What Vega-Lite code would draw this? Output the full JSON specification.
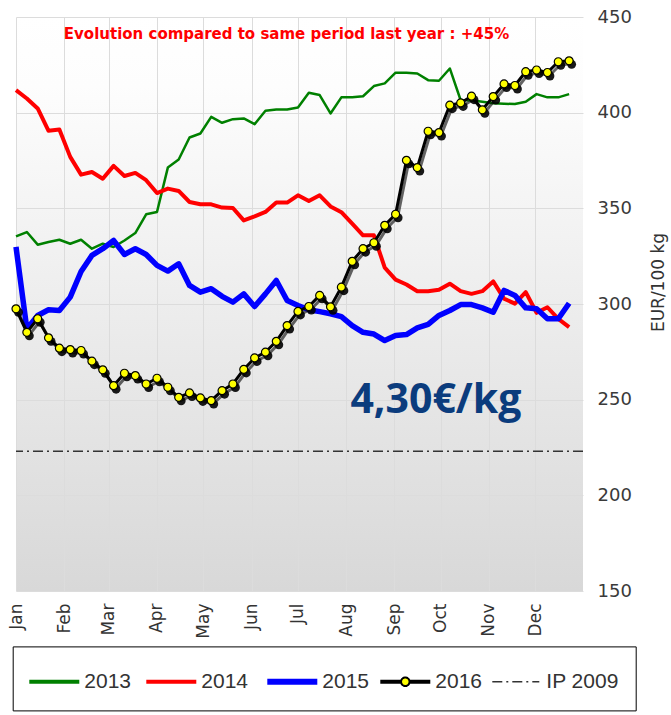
{
  "$schema": "https://vega.github.io/schema/vega-lite/v6.json",
  "width": 567,
  "height": 574,
  "autosize": {"type": "none"},
  "padding": {"left": 16, "top": 17, "right": 88, "bottom": 124},
  "background": "#ffffff",
  "view": {"stroke": null, "fill": {"gradient": "linear", "x1": 0, "y1": 0, "x2": 0, "y2": 1, "stops": [{"offset": 0, "color": "#ffffff"}, {"offset": 0.12, "color": "#fdfdfd"}, {"offset": 1, "color": "#d8d8d8"}]}},
  "config": {"font": "DejaVu Sans"},
  "datasets": {
    "prices": [
      {"s":"2013","d":"2016-01-01","v":335.3},{"s":"2013","d":"2016-01-08","v":337.6},{"s":"2013","d":"2016-01-15","v":331.0},{"s":"2013","d":"2016-01-22","v":332.4},{"s":"2013","d":"2016-01-29","v":333.6},{"s":"2013","d":"2016-02-05","v":331.5},{"s":"2013","d":"2016-02-12","v":333.6},{"s":"2013","d":"2016-02-19","v":328.9},{"s":"2013","d":"2016-02-26","v":331.5},{"s":"2013","d":"2016-03-04","v":329.8},
      {"s":"2013","d":"2016-03-11","v":333.2},{"s":"2013","d":"2016-03-18","v":337.1},{"s":"2013","d":"2016-03-25","v":346.9},{"s":"2013","d":"2016-04-01","v":348.1},{"s":"2013","d":"2016-04-08","v":371.3},{"s":"2013","d":"2016-04-15","v":375.5},{"s":"2013","d":"2016-04-22","v":387.0},{"s":"2013","d":"2016-04-29","v":389.1},{"s":"2013","d":"2016-05-06","v":397.8},{"s":"2013","d":"2016-05-13","v":394.7},
      {"s":"2013","d":"2016-05-20","v":396.6},{"s":"2013","d":"2016-05-27","v":397.0},{"s":"2013","d":"2016-06-03","v":394.0},{"s":"2013","d":"2016-06-10","v":401.0},{"s":"2013","d":"2016-06-17","v":401.7},{"s":"2013","d":"2016-06-24","v":401.7},{"s":"2013","d":"2016-07-01","v":402.7},{"s":"2013","d":"2016-07-08","v":410.4},{"s":"2013","d":"2016-07-15","v":409.2},{"s":"2013","d":"2016-07-22","v":399.6},
      {"s":"2013","d":"2016-07-29","v":408.0},{"s":"2013","d":"2016-08-05","v":408.0},{"s":"2013","d":"2016-08-12","v":408.6},{"s":"2013","d":"2016-08-19","v":413.9},{"s":"2013","d":"2016-08-26","v":415.3},{"s":"2013","d":"2016-09-02","v":420.9},{"s":"2013","d":"2016-09-09","v":420.9},{"s":"2013","d":"2016-09-16","v":420.5},{"s":"2013","d":"2016-09-23","v":417.0},{"s":"2013","d":"2016-09-30","v":416.7},
      {"s":"2013","d":"2016-10-07","v":423.1},{"s":"2013","d":"2016-10-14","v":406.5},{"s":"2013","d":"2016-10-21","v":406.5},{"s":"2013","d":"2016-10-28","v":405.7},{"s":"2013","d":"2016-11-04","v":404.9},{"s":"2013","d":"2016-11-11","v":404.7},{"s":"2013","d":"2016-11-18","v":404.5},{"s":"2013","d":"2016-11-25","v":405.7},{"s":"2013","d":"2016-12-02","v":409.7},{"s":"2013","d":"2016-12-09","v":408.0},{"s":"2013","d":"2016-12-16","v":408.0},{"s":"2013","d":"2016-12-23","v":409.7},

      {"s":"2014","d":"2016-01-01","v":411.8},{"s":"2014","d":"2016-01-08","v":407.4},{"s":"2014","d":"2016-01-15","v":402.2},{"s":"2014","d":"2016-01-22","v":390.5},{"s":"2014","d":"2016-01-29","v":391.2},{"s":"2014","d":"2016-02-05","v":376.9},{"s":"2014","d":"2016-02-12","v":367.6},{"s":"2014","d":"2016-02-19","v":369.0},{"s":"2014","d":"2016-02-26","v":365.5},{"s":"2014","d":"2016-03-04","v":372.2},
      {"s":"2014","d":"2016-03-11","v":366.9},{"s":"2014","d":"2016-03-18","v":368.5},{"s":"2014","d":"2016-03-25","v":364.7},{"s":"2014","d":"2016-04-01","v":358.0},{"s":"2014","d":"2016-04-08","v":360.3},{"s":"2014","d":"2016-04-15","v":359.1},{"s":"2014","d":"2016-04-22","v":353.3},{"s":"2014","d":"2016-04-29","v":352.1},{"s":"2014","d":"2016-05-06","v":352.1},{"s":"2014","d":"2016-05-13","v":350.4},
      {"s":"2014","d":"2016-05-20","v":350.2},{"s":"2014","d":"2016-05-27","v":343.7},{"s":"2014","d":"2016-06-03","v":345.8},{"s":"2014","d":"2016-06-10","v":348.1},{"s":"2014","d":"2016-06-17","v":353.0},{"s":"2014","d":"2016-06-24","v":353.0},{"s":"2014","d":"2016-07-01","v":356.8},{"s":"2014","d":"2016-07-08","v":353.8},{"s":"2014","d":"2016-07-15","v":356.8},{"s":"2014","d":"2016-07-22","v":351.0},
      {"s":"2014","d":"2016-07-29","v":348.0},{"s":"2014","d":"2016-08-05","v":342.0},{"s":"2014","d":"2016-08-12","v":335.9},{"s":"2014","d":"2016-08-19","v":335.9},{"s":"2014","d":"2016-08-26","v":319.0},{"s":"2014","d":"2016-09-02","v":312.7},{"s":"2014","d":"2016-09-09","v":310.2},{"s":"2014","d":"2016-09-16","v":306.7},{"s":"2014","d":"2016-09-23","v":306.7},{"s":"2014","d":"2016-09-30","v":307.4},
      {"s":"2014","d":"2016-10-07","v":310.6},{"s":"2014","d":"2016-10-14","v":306.7},{"s":"2014","d":"2016-10-21","v":305.3},{"s":"2014","d":"2016-10-28","v":306.7},{"s":"2014","d":"2016-11-04","v":311.8},{"s":"2014","d":"2016-11-11","v":302.8},{"s":"2014","d":"2016-11-18","v":300.2},{"s":"2014","d":"2016-11-25","v":306.2},{"s":"2014","d":"2016-12-02","v":295.4},{"s":"2014","d":"2016-12-09","v":298.3},{"s":"2014","d":"2016-12-16","v":292.2},{"s":"2014","d":"2016-12-23","v":287.9},

      {"s":"2015","d":"2016-01-01","v":329.8},{"s":"2015","d":"2016-01-08","v":287.0},{"s":"2015","d":"2016-01-15","v":294.0},{"s":"2015","d":"2016-01-22","v":297.0},{"s":"2015","d":"2016-01-29","v":296.6},{"s":"2015","d":"2016-02-05","v":303.6},{"s":"2015","d":"2016-02-12","v":317.0},{"s":"2015","d":"2016-02-19","v":325.4},{"s":"2015","d":"2016-02-26","v":328.9},{"s":"2015","d":"2016-03-04","v":333.2},
      {"s":"2015","d":"2016-03-11","v":325.9},{"s":"2015","d":"2016-03-18","v":328.9},{"s":"2015","d":"2016-03-25","v":325.9},{"s":"2015","d":"2016-04-01","v":320.2},{"s":"2015","d":"2016-04-08","v":317.2},{"s":"2015","d":"2016-04-15","v":321.0},{"s":"2015","d":"2016-04-22","v":309.7},{"s":"2015","d":"2016-04-29","v":306.2},{"s":"2015","d":"2016-05-06","v":308.0},{"s":"2015","d":"2016-05-13","v":304.0},
      {"s":"2015","d":"2016-05-20","v":301.0},{"s":"2015","d":"2016-05-27","v":305.3},{"s":"2015","d":"2016-06-03","v":298.7},{"s":"2015","d":"2016-06-10","v":305.3},{"s":"2015","d":"2016-06-17","v":312.3},{"s":"2015","d":"2016-06-24","v":301.8},{"s":"2015","d":"2016-07-01","v":299.2},{"s":"2015","d":"2016-07-08","v":297.0},{"s":"2015","d":"2016-07-15","v":296.0},{"s":"2015","d":"2016-07-22","v":294.9},
      {"s":"2015","d":"2016-07-29","v":293.4},{"s":"2015","d":"2016-08-05","v":288.7},{"s":"2015","d":"2016-08-12","v":285.2},{"s":"2015","d":"2016-08-19","v":284.3},{"s":"2015","d":"2016-08-26","v":280.9},{"s":"2015","d":"2016-09-02","v":283.5},{"s":"2015","d":"2016-09-09","v":284.0},{"s":"2015","d":"2016-09-16","v":287.5},{"s":"2015","d":"2016-09-23","v":289.3},{"s":"2015","d":"2016-09-30","v":294.0},
      {"s":"2015","d":"2016-10-07","v":296.6},{"s":"2015","d":"2016-10-14","v":299.7},{"s":"2015","d":"2016-10-21","v":299.7},{"s":"2015","d":"2016-10-28","v":298.0},{"s":"2015","d":"2016-11-04","v":295.7},{"s":"2015","d":"2016-11-11","v":307.1},{"s":"2015","d":"2016-11-18","v":304.5},{"s":"2015","d":"2016-11-25","v":298.0},{"s":"2015","d":"2016-12-02","v":297.5},{"s":"2015","d":"2016-12-09","v":292.3},{"s":"2015","d":"2016-12-16","v":292.3},{"s":"2015","d":"2016-12-23","v":300.4},

      {"s":"2016","d":"2016-01-01","v":297.5},{"s":"2016","d":"2016-01-08","v":285.2},{"s":"2016","d":"2016-01-15","v":292.3},{"s":"2016","d":"2016-01-22","v":282.3},{"s":"2016","d":"2016-01-29","v":276.9},{"s":"2016","d":"2016-02-05","v":276.2},{"s":"2016","d":"2016-02-12","v":275.7},{"s":"2016","d":"2016-02-19","v":270.1},{"s":"2016","d":"2016-02-26","v":265.6},{"s":"2016","d":"2016-03-04","v":257.3},
      {"s":"2016","d":"2016-03-11","v":263.8},{"s":"2016","d":"2016-03-18","v":262.6},{"s":"2016","d":"2016-03-25","v":258.2},{"s":"2016","d":"2016-04-01","v":261.2},{"s":"2016","d":"2016-04-08","v":256.5},{"s":"2016","d":"2016-04-15","v":251.2},{"s":"2016","d":"2016-04-22","v":253.5},{"s":"2016","d":"2016-04-29","v":250.9},{"s":"2016","d":"2016-05-06","v":249.5},{"s":"2016","d":"2016-05-13","v":254.7},
      {"s":"2016","d":"2016-05-20","v":258.2},{"s":"2016","d":"2016-05-27","v":265.8},{"s":"2016","d":"2016-06-03","v":271.8},{"s":"2016","d":"2016-06-10","v":274.8},{"s":"2016","d":"2016-06-17","v":280.5},{"s":"2016","d":"2016-06-24","v":288.7},{"s":"2016","d":"2016-07-01","v":296.1},{"s":"2016","d":"2016-07-08","v":298.7},{"s":"2016","d":"2016-07-15","v":304.5},{"s":"2016","d":"2016-07-22","v":298.5},
      {"s":"2016","d":"2016-07-29","v":308.8},{"s":"2016","d":"2016-08-05","v":322.3},{"s":"2016","d":"2016-08-12","v":328.9},{"s":"2016","d":"2016-08-19","v":332.0},{"s":"2016","d":"2016-08-26","v":341.1},{"s":"2016","d":"2016-09-02","v":346.9},{"s":"2016","d":"2016-09-09","v":375.1},{"s":"2016","d":"2016-09-16","v":371.3},{"s":"2016","d":"2016-09-23","v":390.3},{"s":"2016","d":"2016-09-30","v":389.6},
      {"s":"2016","d":"2016-10-07","v":403.9},{"s":"2016","d":"2016-10-14","v":405.1},{"s":"2016","d":"2016-10-21","v":408.6},{"s":"2016","d":"2016-10-28","v":401.5},{"s":"2016","d":"2016-11-04","v":408.4},{"s":"2016","d":"2016-11-11","v":415.0},{"s":"2016","d":"2016-11-18","v":414.2},{"s":"2016","d":"2016-11-25","v":421.4},{"s":"2016","d":"2016-12-02","v":422.3},{"s":"2016","d":"2016-12-09","v":421.0},{"s":"2016","d":"2016-12-16","v":426.6},{"s":"2016","d":"2016-12-23","v":427.1}
    ]
  },
  "layer": [
    {
      "data": {"name": "prices"},
      "transform": [{"filter": "datum.s === '2013'"}],
      "mark": {"type": "line", "strokeWidth": 2.5, "strokeJoin": "round"},
      "encoding": {
        "x": {
          "field": "d", "type": "temporal",
          "scale": {"domain": [{"year": 2016, "month": 1, "date": 1}, {"year": 2016, "month": 12, "date": 31, "hours": 23}]},
          "axis": {"format": "%b", "tickCount": "month", "labelAngle": 270, "labelAlign": "right", "labelBaseline": "middle", "labelPadding": 12, "ticks": false, "tickSize": 0, "domain": false, "grid": true, "gridColor": "#dcdcdc", "gridWidth": 1, "labelFont": "DejaVu Sans", "labelFontSize": 17, "labelColor": "#333333", "title": null, "labelOverlap": false, "labelFlush": false}
        },
        "y": {
          "field": "v", "type": "quantitative",
          "scale": {"domain": [150, 450], "nice": false, "zero": false},
          "axis": {"orient": "right", "values": [150, 200, 250, 300, 350, 400, 450], "ticks": false, "tickSize": 0, "domain": false, "grid": true, "gridColor": "#dcdcdc", "gridWidth": 1, "labelFont": "DejaVu Sans", "labelFontSize": 18, "labelColor": "#3a3a3a", "labelPadding": 14, "labelAlign": "left", "title": "EUR/100 kg", "titleFont": "DejaVu Sans", "titleFontSize": 17, "titleFontWeight": "normal", "titleColor": "#333333", "titleAngle": 270, "titleX": 75, "titleY": 265, "titleAlign": "center", "titleBaseline": "middle"}
        },
        "color": {
          "field": "s", "type": "nominal",
          "scale": {"domain": ["2013", "2014", "2015", "2016", "IP 2009"], "range": ["#008000", "#ff0000", "#0000ff", "#000000", "#333333"]},
          "legend": {
            "orient": "none", "legendX": -3.3, "legendY": 629.4, "direction": "horizontal", "title": null,
            "gridAlign": "none",
            "symbolType": "stroke", "symbolSize": 2500, "symbolStrokeWidth": 4,
            "labelFont": "Liberation Sans", "labelFontSize": 21, "labelColor": "#333333", "labelOffset": 34, "labelLimit": 200,
            "columnPadding": 7, "padding": 16.6, "strokeColor": "#000000", "fillColor": "#ffffff",
            "encode": {
              "symbols": {"update": {
                "strokeWidth": {"signal": "datum.value === '2015' ? 6 : datum.value === 'IP 2009' ? 1.5 : datum.value === '2016' ? 2 : 4"},
                "strokeDash": {"signal": "datum.value === 'IP 2009' ? [10,4,2,4] : [1,0]"},
                "shape": {"signal": "datum.value === '2016' ? 'M-0.42,0.29H0.41M-0.42,0.37H0.41M0.75,0.29H1.58M0.75,0.37H1.58M0.75,0.33A0.17,0.17,0,1,1,0.41,0.33A0.17,0.17,0,1,1,0.75,0.33Z' : datum.value === 'IP 2009' ? 'M-0.38,0.33H1.5' : 'M-0.42,0.33H1.58'"},
                "fill": {"signal": "datum.value === '2016' ? '#ffff00' : 'transparent'"},
                "opacity": {"value": 1}
              }},
              "labels": {"update": {"dy": {"value": 8.3}}}
            }
          }
        }
      }
    },
    {
      "data": {"name": "prices"},
      "transform": [{"filter": "datum.s === '2014'"}],
      "mark": {"type": "line", "strokeWidth": 4, "strokeJoin": "round"},
      "encoding": {
        "x": {"field": "d", "type": "temporal"},
        "y": {"field": "v", "type": "quantitative"},
        "color": {"field": "s", "type": "nominal"}
      }
    },
    {
      "data": {"name": "prices"},
      "transform": [{"filter": "datum.s === '2015'"}],
      "mark": {"type": "line", "strokeWidth": 5.5, "strokeJoin": "round"},
      "encoding": {
        "x": {"field": "d", "type": "temporal"},
        "y": {"field": "v", "type": "quantitative"},
        "color": {"field": "s", "type": "nominal"}
      }
    },
    {
      "data": {"values": [{"s": "IP 2009", "v": 223}]},
      "mark": {"type": "rule", "strokeWidth": 1.5, "strokeDash": [10, 4, 2, 4]},
      "encoding": {
        "y": {"field": "v", "type": "quantitative"},
        "color": {"field": "s", "type": "nominal"}
      }
    },
    {
      "data": {"name": "prices"},
      "transform": [{"filter": "datum.s === '2016'"}],
      "mark": {"type": "line", "strokeWidth": 3, "strokeJoin": "round", "xOffset": 2, "yOffset": 3, "opacity": 0.6},
      "encoding": {
        "x": {"field": "d", "type": "temporal"},
        "y": {"field": "v", "type": "quantitative"},
        "color": {"field": "s", "type": "nominal"}
      }
    },
    {
      "data": {"name": "prices"},
      "transform": [{"filter": "datum.s === '2016'"}],
      "mark": {"type": "line", "strokeWidth": 3, "strokeJoin": "round"},
      "encoding": {
        "x": {"field": "d", "type": "temporal"},
        "y": {"field": "v", "type": "quantitative"},
        "color": {"field": "s", "type": "nominal"}
      }
    },
    {
      "data": {"name": "prices"},
      "transform": [{"filter": "datum.s === '2016'"}],
      "mark": {"type": "point", "shape": "circle", "filled": true, "fill": "#000000", "stroke": null, "size": 80, "opacity": 0.9, "xOffset": 2.5, "yOffset": 3.5},
      "encoding": {
        "x": {"field": "d", "type": "temporal"},
        "y": {"field": "v", "type": "quantitative"}
      }
    },
    {
      "data": {"name": "prices"},
      "transform": [{"filter": "datum.s === '2016'"}],
      "mark": {"type": "point", "shape": "circle", "filled": true, "fill": "#ffff00", "stroke": "#000000", "strokeWidth": 1.2, "size": 64, "opacity": 1},
      "encoding": {
        "x": {"field": "d", "type": "temporal"},
        "y": {"field": "v", "type": "quantitative"}
      }
    },
    {
      "data": {"values": [{"t": "Evolution compared to same period last year : +45%"}]},
      "mark": {"type": "text", "font": "DejaVu Sans", "fontWeight": "bold", "fontSize": 15, "color": "#ff0000", "align": "center", "baseline": "alphabetic"},
      "encoding": {
        "x": {"datum": {"year": 2016, "month": 6, "date": 23, "hours": 14}, "type": "temporal"},
        "y": {"datum": 438.7, "type": "quantitative"},
        "text": {"field": "t"}
      }
    },
    {
      "data": {"values": [{"t": "4,30€/kg"}]},
      "mark": {"type": "text", "font": "Open Sans", "fontWeight": "bold", "fontSize": 41, "color": "#0b3c7d", "align": "center", "baseline": "alphabetic"},
      "encoding": {
        "x": {"datum": {"year": 2016, "month": 9, "date": 28}, "type": "temporal"},
        "y": {"datum": 243.0, "type": "quantitative"},
        "text": {"field": "t"}
      }
    }
  ]
}
